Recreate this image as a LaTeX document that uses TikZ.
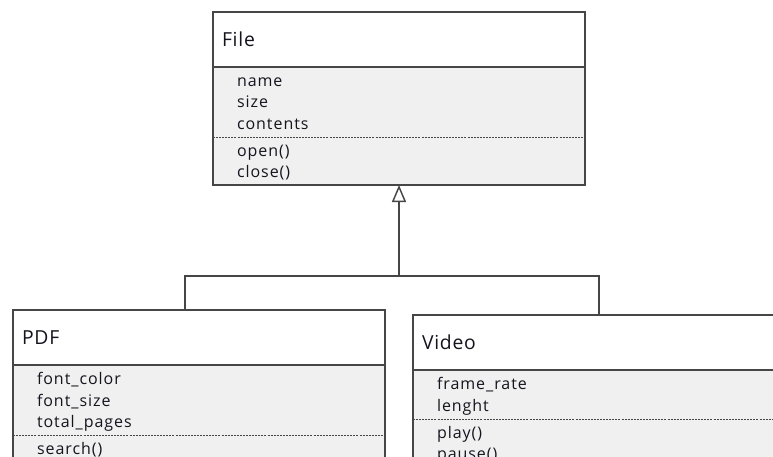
\documentclass[tikz,border=0pt]{standalone}
\usepackage{fontspec}
\setmainfont{Open Sans}
\newfontfamily\umlhead[LetterSpace=4]{Open Sans}
\newfontfamily\umlitem[LetterSpace=6]{Open Sans}
\usepackage{tikz}
\usetikzlibrary{arrows.meta, positioning}
\definecolor{umlline}{RGB}{70,70,70}
\definecolor{umlbody}{RGB}{240,240,240}
\definecolor{umltext}{RGB}{20,20,30}
\newcommand{\pxu}{0.75pt}

\begin{document}
\begin{tikzpicture}[x=0.75pt, y=-0.75pt,
		classhead/.style={fill=white, anchor=north west, outer sep=0pt, inner ysep=0pt,
			inner xsep=9*\pxu, text width=354*\pxu, align=left, minimum height=55*\pxu,
			text=umltext, font=\umlhead\fontsize{14.5}{17}\selectfont},
		classbody/.style={fill=umlbody, outer sep=0pt, inner ysep=0pt,
			inner xsep=24*\pxu, text width=324*\pxu, align=left,
			text=umltext, font=\umlitem\fontsize{12}{16.1}\selectfont,
			execute at begin node={\rule{0pt}{12pt}},
			execute at end node={\rule[-3pt]{0pt}{3pt}}},
		classedge/.style={draw=umlline, line width=1.2pt},
		sepline/.style={draw=umlline, line width=0.6pt, dash pattern=on 1.5pt off 0.8pt},
		link/.style={draw=umlline, line width=1.1pt},
		inherit/.style={link, -{Triangle[open, length=17*\pxu, width=14*\pxu, line width=1.1pt]}}]
	\clip (0,0) rectangle (773,456);
	\useasboundingbox (0,0) rectangle (773,456);
	
	% File
	\node[classhead] (filehead) at (213,12) {File};
	\node[classbody, minimum height=70*\pxu, below=0pt of filehead] (fileattr) {name\\size\\contents};
	\node[classbody, minimum height=48*\pxu, below=0pt of fileattr] (fileops) {open()\\close()};
	\draw[classedge] (filehead.north west) rectangle (fileops.south east);
	\draw[classedge] (filehead.south west) -- (filehead.south east);
	\draw[sepline] (fileops.north west) -- (fileops.north east);
	
	% PDF
	\node[classhead] (pdfhead) at (13,310) {PDF};
	\node[classbody, minimum height=70*\pxu, below=0pt of pdfhead] (pdfattr) {font\_color\\font\_size\\total\_pages};
	\node[classbody, minimum height=26*\pxu, below=0pt of pdfattr] (pdfops) {search()};
	\draw[classedge] (pdfhead.north west) rectangle (pdfops.south east);
	\draw[classedge] (pdfhead.south west) -- (pdfhead.south east);
	\draw[sepline] (pdfops.north west) -- (pdfops.north east);
	
	% Video
	\node[classhead] (videohead) at (413,315) {Video};
	\node[classbody, minimum height=49*\pxu, below=0pt of videohead] (videoattr) {frame\_rate\\lenght};
	\node[classbody, minimum height=48*\pxu, below=0pt of videoattr] (videoops) {play()\\pause()};
	\draw[classedge] (videohead.north west) rectangle (videoops.south east);
	\draw[classedge] (videohead.south west) -- (videohead.south east);
	\draw[sepline] (videoops.north west) -- (videoops.north east);
	
	% Vererbung
	\coordinate (bus) at (399,276);
	\coordinate (pdftop) at (185,310);
	\coordinate (videotop) at (599,315);
	\draw[link] (pdftop) |- (bus) -| (videotop);
	\draw[inherit] (bus) -- (fileops.south);
\end{tikzpicture}
\end{document}
